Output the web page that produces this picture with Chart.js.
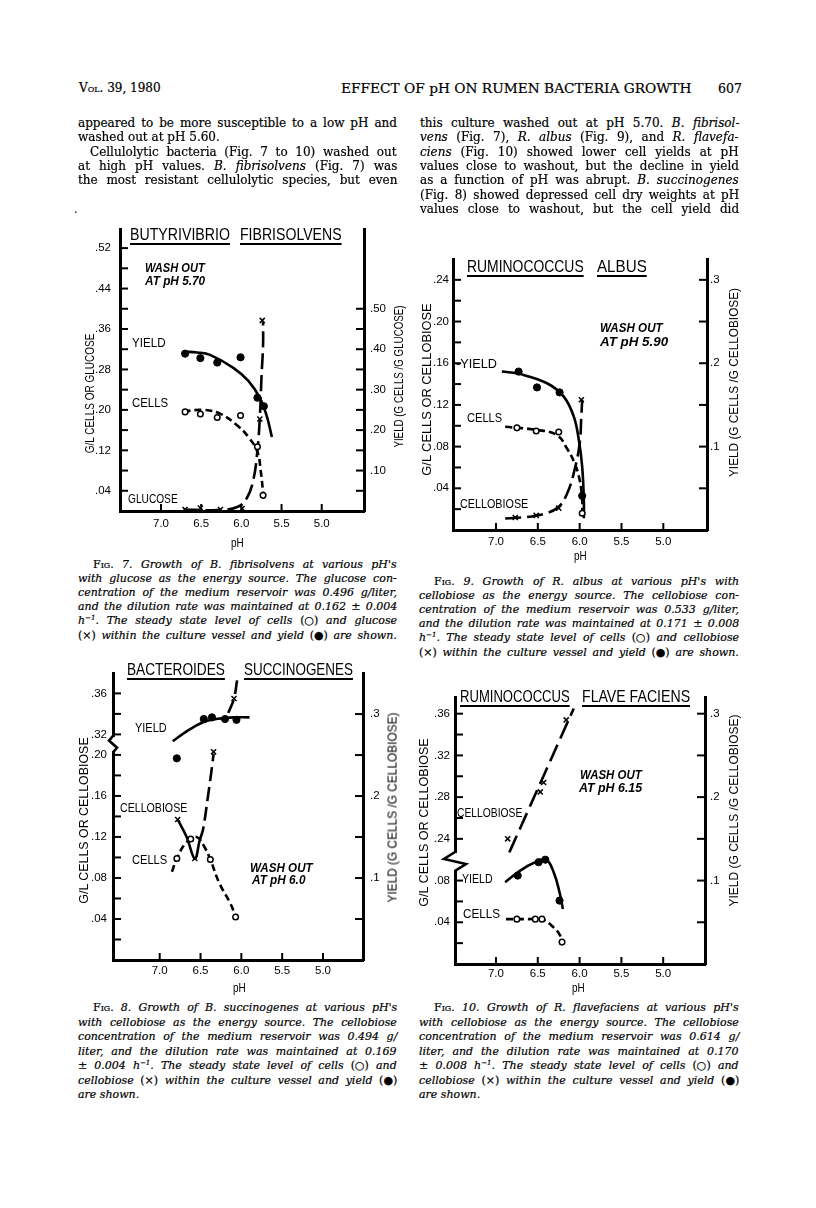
<!DOCTYPE html>
<html>
<head>
<meta charset="utf-8">
<script src="https://cdn.jsdelivr.net/npm/chart.js@4.4.1/dist/chart.umd.min.js"></script>
<style>
  html, body { margin: 0; padding: 0; background: #fff; }
  body { width: 816px; height: 1208px; position: relative; overflow: hidden; color: #000; }
  .ln { position: absolute; white-space: nowrap; font-family: "DejaVu Serif", serif; -webkit-text-stroke: 0.2px #000; }
  .body { font-size: 12px; line-height: 14px; }
  .cap { font-size: 11px; line-height: 14px; font-style: italic; }
  .sc { font-style: normal; font-variant: small-caps; }
  .r { font-style: normal; }
  sup { font-size: 7px; line-height: 0; vertical-align: 4px; }
  .lab { position: absolute; white-space: nowrap; font-family: "Liberation Sans", Arial, sans-serif;
         font-size: 13px; line-height: 15px; transform-origin: left center; }
  .hd { font-family: "DejaVu Serif", serif; font-size: 12.5px; -webkit-text-stroke: 0.2px #000; }
  .ttl { font-size: 17px; line-height: 20px; text-decoration: underline; text-decoration-thickness: 2px;
         text-underline-offset: 3px; }
  .wo { font-style: italic; font-weight: bold; font-size: 12px; }
  .ax { position: absolute; white-space: nowrap; font-family: "Liberation Sans", Arial, sans-serif;
        font-size: 13px; line-height: 15px; transform-origin: center center; }
</style>
</head>
<body>
<script>
// ---------- values ----------
const xTickVals = [7.0, 6.5, 6.0, 5.5, 5.0];
const xTickLabels = ['7.0', '6.5', '6.0', '5.5', '5.0'];

// Fig. 7  Butyrivibrio fibrisolvens (glucose)
const fig7YieldPH = [6.70, 6.51, 6.30, 6.01, 5.80, 5.72];
const fig7Yield = [0.389, 0.378, 0.367, 0.380, 0.280, 0.259];
const fig7YieldLinePH = [6.72, 6.55, 6.39, 6.10, 5.91, 5.76, 5.68, 5.62];
const fig7YieldLine = [0.394, 0.392, 0.386, 0.354, 0.321, 0.276, 0.232, 0.183];
const fig7CellsPH = [6.70, 6.51, 6.30, 6.01, 5.80, 5.73];
const fig7Cells = [0.196, 0.192, 0.185, 0.189, 0.127, 0.031];
const fig7CellsLinePH = [6.72, 6.47, 6.26, 6.05, 5.91, 5.80, 5.76, 5.72];
const fig7CellsLine = [0.197, 0.200, 0.192, 0.169, 0.146, 0.117, 0.081, 0.020];
const fig7GlucosePH = [6.70, 6.51, 6.26, 5.99, 5.77, 5.74];
const fig7Glucose = [0.003, 0.006, 0.003, 0.005, 0.182, 0.377];
const fig7GlucoseLinePH = [6.72, 6.30, 6.05, 5.93, 5.85, 5.80, 5.77, 5.75, 5.73, 5.73];
const fig7GlucoseLine = [0.003, 0.002, 0.008, 0.026, 0.062, 0.120, 0.185, 0.263, 0.328, 0.374];
const fig7LeftTicks = [0.04, 0.08, 0.12, 0.16, 0.20, 0.24, 0.28, 0.32, 0.36, 0.40, 0.44, 0.48, 0.52];
const fig7LeftLabels = ['.04', '', '.12', '', '.20', '', '.28', '', '.36', '', '.44', '', '.52'];
const fig7RightTicks = [0.05, 0.10, 0.15, 0.20, 0.25, 0.30, 0.35, 0.40, 0.45, 0.50];
const fig7RightLabels = ['', '.10', '', '.20', '', '.30', '', '.40', '', '.50'];

// Fig. 9  Ruminococcus albus (cellobiose)
const fig9YieldPH = [6.73, 6.51, 6.24, 5.97];
const fig9Yield = [0.190, 0.171, 0.165, 0.041];
const fig9YieldLinePH = [6.93, 6.71, 6.39, 6.19, 6.07, 6.01, 5.97, 5.95, 5.95];
const fig9YieldLine = [0.190, 0.187, 0.176, 0.160, 0.136, 0.108, 0.076, 0.036, 0.014];
const fig9CellsPH = [6.75, 6.52, 6.25, 5.97];
const fig9Cells = [0.098, 0.095, 0.094, 0.016];
const fig9CellsLinePH = [6.89, 6.51, 6.27, 6.15, 6.06, 6.00, 5.97, 5.97];
const fig9CellsLine = [0.099, 0.096, 0.091, 0.078, 0.064, 0.048, 0.029, 0.016];
const fig9CelloPH = [6.77, 6.52, 6.25, 5.98];
const fig9Cello = [0.012, 0.014, 0.021, 0.125];
const fig9CelloLinePH = [6.89, 6.51, 6.27, 6.15, 6.06, 6.00, 5.98, 5.97];
const fig9CelloLine = [0.011, 0.014, 0.021, 0.035, 0.058, 0.083, 0.109, 0.125];
const fig9LeftTicks = [0.02, 0.04, 0.06, 0.08, 0.10, 0.12, 0.14, 0.16, 0.18, 0.20, 0.22, 0.24];
const fig9LeftLabels = ['', '.04', '', '.08', '', '.12', '', '.16', '', '.20', '', '.24'];
const fig9RightTicks = [0.05, 0.10, 0.15, 0.20, 0.25, 0.30];
const fig9RightLabels = ['', '.1', '', '.2', '', '.3'];

// Fig. 8  Bacteroides succinogenes (cellobiose) - left axis broken between .20 and .32
const fig8YieldPH = [6.79, 6.46, 6.36, 6.20, 6.06];
const fig8Yield = [0.246, 0.294, 0.296, 0.294, 0.293];
const fig8YieldLinePH = [6.84, 6.67, 6.47, 6.31, 6.10, 5.90];
const fig8YieldLine = [0.267, 0.279, 0.290, 0.294, 0.296, 0.296];
const fig8CellsPH = [6.79, 6.62, 6.38, 6.07];
const fig8Cells = [0.099, 0.118, 0.098, 0.042];
const fig8CellsLinePH = [6.85, 6.79, 6.68, 6.55, 6.45, 6.38, 6.27, 6.14, 6.07];
const fig8CellsLine = [0.086, 0.099, 0.114, 0.120, 0.110, 0.098, 0.075, 0.056, 0.043];
const fig8CelloPH = [6.78, 6.57, 6.34, 6.09];
const fig8Cello = [0.137, 0.099, 0.203, 0.355];
const fig8CelloSolidPH = [6.78, 6.67, 6.57, 6.51];
const fig8CelloSolid = [0.137, 0.120, 0.099, 0.117];
const fig8CelloDashPH = [6.51, 6.47, 6.41, 6.37, 6.34];
const fig8CelloDash = [0.117, 0.127, 0.159, 0.182, 0.201];
const fig8CelloTopPH = [6.16, 6.09, 6.05];
const fig8CelloTop = [0.341, 0.355, 0.374];
const fig8LeftTicks = [0.02, 0.04, 0.06, 0.08, 0.10, 0.12, 0.14, 0.16, 0.18, 0.20, 0.22, 0.24, 0.26];
const fig8LeftLabels = ['', '.04', '', '.08', '', '.12', '', '.16', '', '.20', '.32', '', '.36'];
const fig8RightTicks = [0.05, 0.10, 0.15, 0.20, 0.25, 0.30];
const fig8RightLabels = ['', '.1', '', '.2', '', '.3'];

// Fig. 10  Ruminococcus flavefaciens (cellobiose) - left axis broken between .08 and .24
const fig10YieldPH = [6.74, 6.49, 6.41, 6.24];
const fig10Yield = [0.106, 0.122, 0.125, 0.076];
const fig10YieldLinePH = [6.89, 6.71, 6.55, 6.40, 6.31, 6.24, 6.20];
const fig10YieldLine = [0.098, 0.112, 0.121, 0.125, 0.110, 0.086, 0.066];
const fig10CellsPH = [6.75, 6.53, 6.45, 6.21];
const fig10Cells = [0.043, 0.043, 0.043, 0.021];
const fig10CellsLinePH = [6.88, 6.60, 6.45, 6.31, 6.23, 6.21];
const fig10CellsLine = [0.043, 0.043, 0.043, 0.035, 0.027, 0.021];
const fig10CelloPH = [6.86, 6.47, 6.43, 6.16];
const fig10Cello = [0.240, 0.285, 0.294, 0.354];
const fig10CelloLinePH = [6.84, 6.07];
const fig10CelloLine = [0.227, 0.365];
const fig10LeftTicks = [0.02, 0.04, 0.06, 0.08, 0.12, 0.14, 0.16, 0.18, 0.20, 0.22, 0.24];
const fig10LeftLabels = ['', '.04', '', '.08', '.24', '', '.28', '', '.32', '', '.36'];
const fig10RightTicks = [0.05, 0.10, 0.15, 0.20, 0.25, 0.30];
const fig10RightLabels = ['', '.1', '', '.2', '', '.3'];

// broken axes: value above the break is shifted down to the plotted position
const fig8Break = v => (v > 0.25 ? v - 0.10 : v);
const fig10Break = v => (v > 0.20 ? v - 0.12 : v);

// ---------- helpers ----------
const pts = (xs, ys, f) => xs.map((x, i) => ({ x: x, y: f ? f(ys[i]) : ys[i] }));

function marks(xs, ys, axis, kind, f) {
  const base = { data: pts(xs, ys, f), yAxisID: axis, showLine: false, borderColor: '#000', order: 0 };
  if (kind === 'filled') return Object.assign(base, { pointStyle: 'circle', pointRadius: 3.6, backgroundColor: '#000', borderWidth: 1 });
  if (kind === 'open') return Object.assign(base, { pointStyle: 'circle', pointRadius: 2.8, backgroundColor: '#fff', borderWidth: 1.5 });
  return Object.assign(base, { pointStyle: 'crossRot', pointRadius: 3.6, borderWidth: 1.5 });
}

function curve(xs, ys, axis, dash, f) {
  return { data: pts(xs, ys, f), yAxisID: axis, showLine: true, pointRadius: 0, borderColor: '#000',
           borderWidth: 2.6, borderDash: dash || [], tension: 0.4, fill: false, order: 1 };
}

// inward tick marks and the zig-zag of a broken axis
const axisDeco = {
  id: 'axisDeco',
  afterDraw(chart, args, opts) {
    const { ctx, chartArea: a, scales } = chart;
    ctx.save();
    ctx.strokeStyle = '#000';
    ctx.lineWidth = 2;
    const seg = (x1, y1, x2, y2) => { ctx.beginPath(); ctx.moveTo(x1, y1); ctx.lineTo(x2, y2); ctx.stroke(); };
    scales.x.ticks.forEach(t => { const p = scales.x.getPixelForValue(t.value); seg(p, a.bottom, p, a.bottom - 7); });
    scales.y.ticks.forEach(t => { const p = scales.y.getPixelForValue(t.value); seg(a.left, p, a.left + 8, p); });
    scales.y2.ticks.forEach(t => { const p = scales.y2.getPixelForValue(t.value); seg(a.right, p, a.right - 8, p); });
    if (opts.zig) {
      const z = opts.zig.map(q => [a.left + q[0], scales.y.getPixelForValue(q[1])]);
      ctx.fillStyle = '#fff';
      ctx.fillRect(a.left - 5, z[0][1] + 1, 8, z[z.length - 1][1] - z[0][1] - 2);
      ctx.lineWidth = 2.6;
      ctx.beginPath();
      z.forEach((q, i) => (i ? ctx.lineTo(q[0], q[1]) : ctx.moveTo(q[0], q[1])));
      ctx.stroke();
    }
    ctx.restore();
  }
};

const tickFont = { family: '"Liberation Sans", Arial, sans-serif', size: 11.5 };

function buildChart(o) {
  const plotW = o.right - o.left, plotH = o.bottom - o.top;
  const W = o.lw + plotW + o.rw, H = o.tp + plotH + o.bh;
  const box = document.createElement('div');
  box.style.position = 'absolute';
  box.style.left = (o.left - o.lw) + 'px';
  box.style.top = (o.top - o.tp) + 'px';
  const cv = document.createElement('canvas');
  cv.width = W; cv.height = H;
  cv.style.width = W + 'px'; cv.style.height = H + 'px';
  box.appendChild(cv);
  document.body.appendChild(box);

  const yAxis = (pos, max, ticks, labels, width, pad) => ({
    type: 'linear', position: pos, min: 0, max: max,
    grid: { display: false, drawTicks: false },
    border: { display: true, width: 3, color: '#000' },
    afterFit: s => { s.width = width; },
    afterBuildTicks: s => { s.ticks = ticks.map(v => ({ value: v })); },
    ticks: { font: tickFont, color: '#000', padding: pad, autoSkip: false, callback: (v, i) => labels[i] }
  });

  const chart = new Chart(cv.getContext('2d'), {
    type: 'scatter',
    data: { datasets: o.datasets },
    options: {
      responsive: false, animation: false, devicePixelRatio: 1,
      layout: { padding: { top: o.tp, left: 0, right: 0, bottom: 0 } },
      plugins: { legend: { display: false }, tooltip: { enabled: false }, axisDeco: { zig: o.zig } },
      scales: {
        x: {
          type: 'linear', position: 'bottom', reverse: true, min: o.xMin, max: o.xMax,
          grid: { display: false, drawTicks: false },
          border: { display: true, width: 3, color: '#000' },
          afterFit: s => { s.height = o.bh; },
          afterBuildTicks: s => { s.ticks = xTickVals.map(v => ({ value: v })); },
          ticks: { font: tickFont, color: '#000', padding: o.xPad, maxRotation: 0, autoSkip: false,
                   callback: (v, i) => xTickLabels[i] }
        },
        y: yAxis('left', o.yMax, o.yTicks, o.yLabels, o.lw, o.lPad),
        y2: yAxis('right', o.y2Max, o.y2Ticks, o.y2Labels, o.rw, o.rPad)
      }
    },
    plugins: [axisDeco]
  });
  const ca = chart.chartArea;
  box.style.left = (o.left - ca.left) + 'px';
  box.style.top = (o.top - ca.top) + 'px';
  return chart;
}

// ---------- the four panels ----------
buildChart({
  left: 120, top: 230, right: 364, bottom: 515, lw: 40, rw: 40, tp: 12, bh: 30,
  xMin: 4.474, xMax: 7.51, yMax: 0.556, y2Max: 0.695, xPad: 6, lPad: 9, rPad: 6,
  yTicks: fig7LeftTicks, yLabels: fig7LeftLabels, y2Ticks: fig7RightTicks, y2Labels: fig7RightLabels,
  datasets: [
    marks(fig7YieldPH, fig7Yield, 'y2', 'filled'),
    marks(fig7CellsPH, fig7Cells, 'y', 'open'),
    marks(fig7GlucosePH, fig7Glucose, 'y', 'cross'),
    curve(fig7YieldLinePH, fig7YieldLine, 'y2'),
    curve(fig7CellsLinePH, fig7CellsLine, 'y', [7, 4]),
    curve(fig7GlucoseLinePH, fig7GlucoseLine, 'y', [16, 6])
  ]
});

buildChart({
  left: 453, top: 259, right: 707, bottom: 530, lw: 34, rw: 34, tp: 12, bh: 30,
  xMin: 4.478, xMax: 7.514, yMax: 0.260, y2Max: 0.325, xPad: 5, lPad: 4, rPad: 3,
  yTicks: fig9LeftTicks, yLabels: fig9LeftLabels, y2Ticks: fig9RightTicks, y2Labels: fig9RightLabels,
  datasets: [
    marks(fig9YieldPH, fig9Yield, 'y2', 'filled'),
    marks(fig9CellsPH, fig9Cells, 'y', 'open'),
    marks(fig9CelloPH, fig9Cello, 'y', 'cross'),
    curve(fig9YieldLinePH, fig9YieldLine, 'y2'),
    curve(fig9CellsLinePH, fig9CellsLine, 'y', [7, 4]),
    curve(fig9CelloLinePH, fig9CelloLine, 'y', [16, 6])
  ]
});

buildChart({
  left: 113, top: 674, right: 363, bottom: 962, lw: 36, rw: 36, tp: 12, bh: 30,
  xMin: 4.51, xMax: 7.572, yMax: 0.279, y2Max: 0.349, xPad: 4, lPad: 6, rPad: 7,
  yTicks: fig8LeftTicks, yLabels: fig8LeftLabels, y2Ticks: fig8RightTicks, y2Labels: fig8RightLabels,
  zig: [[0, 0.2185], [-4, 0.214], [4, 0.207], [0, 0.2025]],
  datasets: [
    marks(fig8YieldPH, fig8Yield, 'y2', 'filled'),
    marks(fig8CellsPH, fig8Cells, 'y', 'open'),
    marks(fig8CelloPH, fig8Cello, 'y', 'cross', fig8Break),
    curve(fig8YieldLinePH, fig8YieldLine, 'y2'),
    curve(fig8CellsLinePH, fig8CellsLine, 'y', [7, 4]),
    curve(fig8CelloSolidPH, fig8CelloSolid, 'y', [], fig8Break),
    curve(fig8CelloDashPH, fig8CelloDash, 'y', [14, 6], fig8Break),
    curve(fig8CelloTopPH, fig8CelloTop, 'y', [14, 6], fig8Break)
  ]
});

buildChart({
  left: 455, top: 697, right: 705, bottom: 964, lw: 36, rw: 36, tp: 12, bh: 30,
  xMin: 4.50, xMax: 7.49, yMax: 0.256, y2Max: 0.320, xPad: 3, lPad: 5, rPad: 5,
  yTicks: fig10LeftTicks, yLabels: fig10LeftLabels, y2Ticks: fig10RightTicks, y2Labels: fig10RightLabels,
  zig: [[0, 0.1074], [-11, 0.1007], [11, 0.0959], [0, 0.0892]],
  datasets: [
    marks(fig10YieldPH, fig10Yield, 'y2', 'filled'),
    marks(fig10CellsPH, fig10Cells, 'y', 'open'),
    marks(fig10CelloPH, fig10Cello, 'y', 'cross', fig10Break),
    curve(fig10YieldLinePH, fig10YieldLine, 'y2'),
    curve(fig10CellsLinePH, fig10CellsLine, 'y', [7, 4]),
    curve(fig10CelloLinePH, fig10CelloLine, 'y', [18, 7], fig10Break)
  ]
});

// ---------- text on the page ----------
function label(txt, x, cy, w, cls) {
  const d = document.createElement('div');
  d.className = 'lab ' + (cls || '');
  d.textContent = txt;
  document.body.appendChild(d);
  d.style.left = x + 'px';
  d.style.top = (cy - d.offsetHeight / 2) + 'px';
  if (w) d.style.transform = 'scaleX(' + (w / d.offsetWidth) + ')';
}

function vlabel(txt, cx, cy, len) {
  const d = document.createElement('div');
  d.className = 'ax';
  d.textContent = txt;
  document.body.appendChild(d);
  const nw = d.offsetWidth, nh = d.offsetHeight;
  d.style.left = (cx - nw / 2) + 'px';
  d.style.top = (cy - nh / 2) + 'px';
  d.style.transform = 'rotate(-90deg) scaleX(' + (len / nw) + ')';
}

// one typeset line; justified lines get their word spacing stretched to the column width
function textLines(x, cy0, lh, width, cls, rows) {
  rows.forEach((r, i) => {
    const d = document.createElement('div');
    d.className = 'ln ' + cls;
    d.innerHTML = r[0];
    document.body.appendChild(d);
    const ind = r[2] || 0;
    d.style.left = (x + ind) + 'px';
    d.style.top = (cy0 + i * lh - d.offsetHeight / 2) + 'px';
    const extra = width - ind - d.offsetWidth;
    if (r[1]) {
      const gaps = (d.textContent.match(/ /g) || []).length;
      if (extra >= 0 && gaps) d.style.wordSpacing = (extra / gaps) + 'px';
    }
    if (extra < 0) { d.style.transformOrigin = 'left center'; d.style.transform = 'scaleX(' + ((width - ind) / d.offsetWidth) + ')'; }
  });
}

// running head
textLines(79, 88, 14, 100, 'body', [['<span class="sc">Vol.</span> 39, 1980']]);
label('EFFECT OF pH ON RUMEN BACTERIA GROWTH', 341, 88, 351, 'hd');
label('607', 718, 88, 24, 'hd');

textLines(78, 123, 14.3, 319, 'body', [
  ['appeared to be more susceptible to a low pH and', 1],
  ['washed out at pH 5.60.', 0],
  ['Cellulolytic bacteria (Fig. 7 to 10) washed out', 1, 12],
  ['at high pH values. <i>B. fibrisolvens</i> (Fig. 7) was', 1],
  ['the most resistant cellulolytic species, but even', 1]
]);
label('.', 74, 208, 0);
textLines(420, 123, 14.3, 319, 'body', [
  ['this culture washed out at pH 5.70. <i>B. fibrisol-</i>', 1],
  ['<i>vens</i> (Fig. 7), <i>R. albus</i> (Fig. 9), and <i>R. flavefa-</i>', 1],
  ['<i>ciens</i> (Fig. 10) showed lower cell yields at pH', 1],
  ['values close to washout, but the decline in yield', 1],
  ['as a function of pH was abrupt. <i>B. succinogenes</i>', 1],
  ['(Fig. 8) showed depressed cell dry weights at pH', 1],
  ['values close to washout, but the cell yield did', 1]
]);

const O = '<span class="r">(&#9675;)</span>', X = '<span class="r">(&#215;)</span>', F = '<span class="r">(&#9679;)</span>';
textLines(78, 565, 14.1, 319, 'cap', [
  ['<span class="sc">Fig.</span> 7. Growth of B. fibrisolvens at various pH\'s', 1, 15],
  ['with glucose as the energy source. The glucose con-', 1],
  ['centration of the medium reservoir was 0.496 g/liter,', 1],
  ['and the dilution rate was maintained at 0.162 &#177; 0.004', 1],
  ['h<sup>&#8722;1</sup>. The steady state level of cells ' + O + ' and glucose', 1],
  [X + ' within the culture vessel and yield ' + F + ' are shown.', 1]
]);
textLines(419, 582, 14.1, 320, 'cap', [
  ['<span class="sc">Fig.</span> 9. Growth of R. albus at various pH\'s with', 1, 15],
  ['cellobiose as the energy source. The cellobiose con-', 1],
  ['centration of the medium reservoir was 0.533 g/liter,', 1],
  ['and the dilution rate was maintained at 0.171 &#177; 0.008', 1],
  ['h<sup>&#8722;1</sup>. The steady state level of cells ' + O + ' and cellobiose', 1],
  [X + ' within the culture vessel and yield ' + F + ' are shown.', 1]
]);
textLines(78, 1008, 14.5, 319, 'cap', [
  ['<span class="sc">Fig.</span> 8. Growth of B. succinogenes at various pH\'s', 1, 15],
  ['with cellobiose as the energy source. The cellobiose', 1],
  ['concentration of the medium reservoir was 0.494 g/', 1],
  ['liter, and the dilution rate was maintained at 0.169', 1],
  ['&#177; 0.004 h<sup>&#8722;1</sup>. The steady state level of cells ' + O + ' and', 1],
  ['cellobiose ' + X + ' within the culture vessel and yield ' + F, 1],
  ['are shown.', 0]
]);
textLines(419, 1008, 14.5, 320, 'cap', [
  ['<span class="sc">Fig.</span> 10. Growth of R. flavefaciens at various pH\'s', 1, 15],
  ['with cellobiose as the energy source. The cellobiose', 1],
  ['concentration of the medium reservoir was 0.614 g/', 1],
  ['liter, and the dilution rate was maintained at 0.170', 1],
  ['&#177; 0.008 h<sup>&#8722;1</sup>. The steady state level of cells ' + O + ' and', 1],
  ['cellobiose ' + X + ' within the culture vessel and yield ' + F, 1],
  ['are shown.', 0]
]);

// panel annotations
label('BUTYRIVIBRIO', 130, 235, 100, 'ttl');
label('FIBRISOLVENS', 240, 235, 102, 'ttl');
label('WASH OUT', 145, 268, 60, 'wo');
label('AT pH 5.70', 145, 281, 60, 'wo');
label('YIELD', 132, 342, 34);
label('CELLS', 132, 402, 36);
label('GLUCOSE', 128, 498, 50);
vlabel('G/L CELLS OR GLUCOSE', 90, 393, 120);
vlabel('YIELD (G CELLS /G GLUCOSE)', 398, 376, 142);
label('pH', 231, 542, 13);

label('RUMINOCOCCUS', 467, 267, 117, 'ttl');
label('ALBUS', 597, 267, 50, 'ttl');
label('WASH OUT', 600, 328, 63, 'wo');
label('AT pH 5.90', 600, 342, 68, 'wo');
label('-YIELD', 456, 363, 41);
label('CELLS', 467, 417, 35);
label('CELLOBIOSE', 460, 503, 68);
vlabel('G/L CELLS OR CELLOBIOSE', 426, 389, 172);
vlabel('YIELD (G CELLS /G CELLOBIOSE)', 733, 382, 189);
label('pH', 574, 555, 13);

label('BACTEROIDES', 127, 670, 98, 'ttl');
label('SUCCINOGENES', 244, 670, 109, 'ttl');
label('YIELD', 135, 727, 32);
label('CELLOBIOSE', 120, 807, 67);
label('CELLS', 132, 859, 35);
label('WASH OUT', 250, 868, 63, 'wo');
label('AT pH 6.0', 252, 880, 53, 'wo');
vlabel('G/L CELLS OR CELLOBIOSE', 83, 820, 166);
vlabel('YIELD (G CELLS /G CELLOBIOSE)', 392, 807, 190);
label('pH', 233, 987, 13);

label('RUMINOCOCCUS', 460, 697, 110, 'ttl');
label('FLAVE FACIENS', 582, 697, 108, 'ttl');
label('CELLOBIOSE', 457, 812, 65);
label('YIELD', 462, 878, 31);
label('CELLS', 463, 913, 37);
label('WASH OUT', 580, 775, 62, 'wo');
label('AT pH 6.15', 579, 788, 63, 'wo');
vlabel('G/L CELLS OR CELLOBIOSE', 423, 822, 168);
vlabel('YIELD (G CELLS /G CELLOBIOSE)', 733, 810, 192);
label('pH', 572, 987, 13);
</script>
</body>
</html>
